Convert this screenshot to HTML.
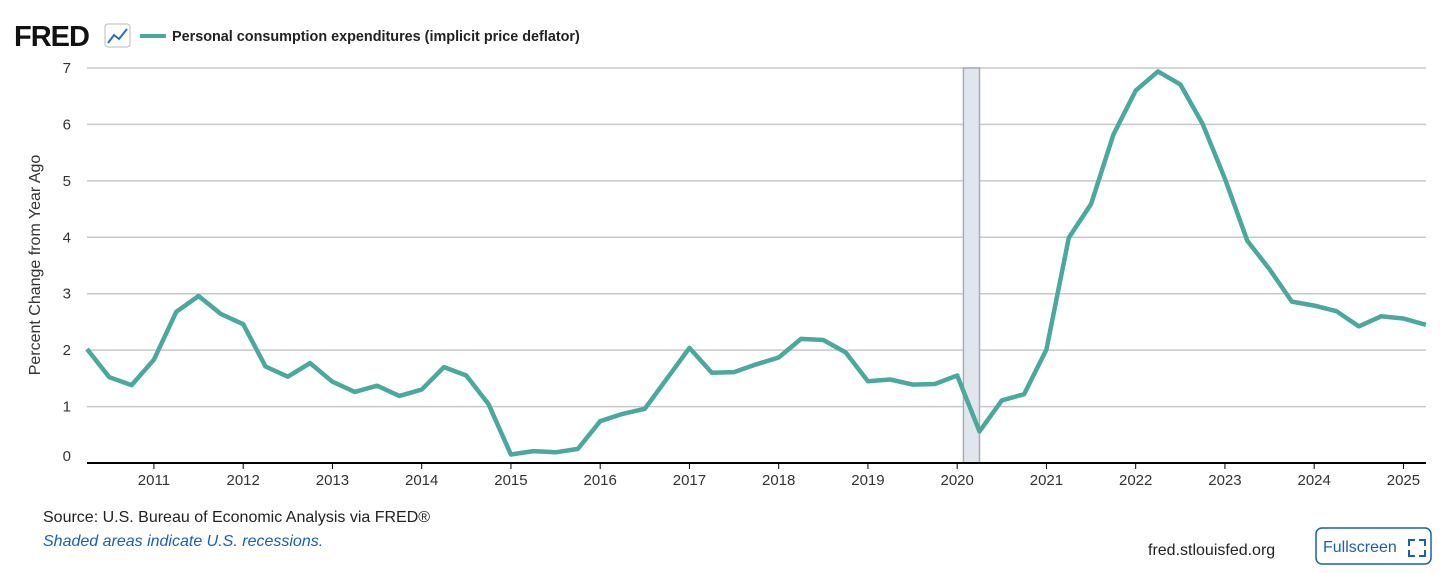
<!DOCTYPE html>
<html><head><meta charset="utf-8"><style>
body{margin:0;background:#fff;font-family:"Liberation Sans",sans-serif;}
#wrap{position:relative;width:1456px;height:573px;overflow:hidden;}
</style></head><body>
<div id="wrap">
<svg id="svg" width="1456" height="573" xmlns="http://www.w3.org/2000/svg">
<text x="14" y="46" font-size="29" font-weight="bold" fill="#111" font-family="Liberation Sans,sans-serif" letter-spacing="-1">FRED</text>
<g><rect x="105" y="24" width="25" height="23" rx="3" fill="#fff" stroke="#bbb"/><polyline points="108,43 114,35 119,39 127,29" fill="none" stroke="#2a6cc9" stroke-width="2"/></g>
<line x1="140" y1="36" x2="166" y2="36" stroke="#4aa89c" stroke-width="4"/>
<text x="172" y="41" font-size="14.4" font-weight="bold" fill="#222">Personal consumption expenditures (implicit price deflator)</text>
<g id="grid"></g><g id="rec"></g><g id="ticks"></g>
<path id="line" fill="none" stroke="#4aa89c" stroke-width="4.5" stroke-linejoin="round"/>
<text transform="translate(40,265) rotate(-90)" text-anchor="middle" font-size="16" fill="#333">Percent Change from Year Ago</text>
<text x="43" y="522" font-size="16" fill="#222">Source: U.S. Bureau of Economic Analysis via FRED®</text>
<text x="43" y="546" font-size="16" font-style="italic" fill="#1a5fb4">Shaded areas indicate U.S. recessions.</text>
<text x="1148" y="555" font-size="16" fill="#222">fred.stlouisfed.org</text>
<g><rect x="1316" y="528" width="115" height="36" rx="6" fill="#fff" stroke="#1a5fb4" stroke-width="1.5"/><text x="1323" y="552" font-size="16" fill="#1a5fb4">Fullscreen</text><path d="M1409,546v-6h6M1419,540h6v6M1425,550v6h-6M1415,556h-6v-6" fill="none" stroke="#1a5fb4" stroke-width="2"/></g>
</svg></div>
<script>
const yTicks=[0,1,2,3,4,5,6,7];
const xYears=[2011,2012,2013,2014,2015,2016,2017,2018,2019,2020,2021,2022,2023,2024,2025];
const startYear=2010.25;
const values=[2.02,1.52,1.38,1.83,2.68,2.96,2.64,2.46,1.71,1.53,1.77,1.44,1.26,1.37,1.19,1.30,1.70,1.55,1.04,0.15,0.21,0.19,0.25,0.74,0.87,0.96,1.50,2.04,1.60,1.61,1.75,1.87,2.20,2.18,1.96,1.45,1.48,1.39,1.40,1.55,0.56,1.11,1.22,2.01,3.99,4.59,5.82,6.60,6.94,6.71,6.01,5.04,3.94,3.43,2.86,2.79,2.69,2.42,2.60,2.56,2.45];
const recessions=[[2020.07,2020.25]];
const X0=87,X1=1426,Y0=463,Y7=68;
const xs=t=>87+(t-2010.25)*89.25;
const ys=v=>Y0-(v/7)*(Y0-Y7);
const NS='http://www.w3.org/2000/svg';
function mk(tag,attrs,parent,txt){const e=document.createElementNS(NS,tag);for(const k in attrs)e.setAttribute(k,attrs[k]);if(txt!==undefined)e.textContent=txt;document.getElementById(parent).appendChild(e);return e;}
yTicks.forEach(v=>{
 if(v>0){const l=mk('line',{x1:X0,x2:X1,y1:ys(v),y2:ys(v),stroke:'#c8c8c8','stroke-width':1.5},'grid');
 
 }
 const t=mk('text',{x:71,y:ys(v)+(v==0?-2:5),'text-anchor':'end','font-size':15,fill:'#333'},'ticks',v);
 
 
});
const ax=mk('line',{x1:X0,x2:X1,y1:Y0,y2:Y0,stroke:'#000','stroke-width':2},'ticks');


xYears.forEach(y=>{
 const tk=mk('line',{x1:xs(y),x2:xs(y),y1:Y0,y2:Y0+6,stroke:'#000'},'ticks');
 
 
 const t=mk('text',{x:xs(y),y:485,'text-anchor':'middle','font-size':15,fill:'#333'},'ticks',y);
 
 
});
recessions.forEach(r=>{
 const rc=mk('rect',{x:xs(r[0]),y:Y7,width:xs(r[1])-xs(r[0]),height:Y0-Y7,fill:'#e1e6ec',stroke:'#aab','stroke-width':1.5},'rec');
 
 
});
document.getElementById('line').setAttribute('d',values.map((v,i)=>(i?'L':'M')+xs(startYear+i*0.25).toFixed(1)+','+ys(v).toFixed(1)).join(''));
</script>
</body></html>
